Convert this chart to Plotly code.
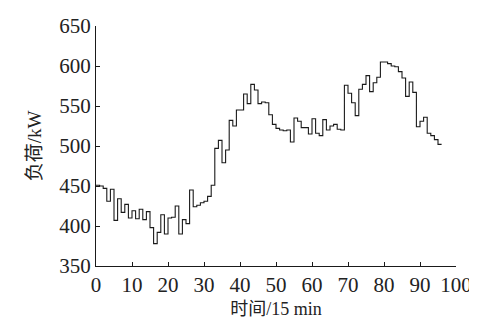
import plotly.graph_objects as go

# Load per 15-min interval (kW), interval index 0..95
load_kw = [
    451, 450, 447, 431, 446, 407, 434, 417, 427, 410,
    419, 409, 421, 408, 418, 398, 378, 392, 414, 390,
    410, 411, 425, 390, 408, 403, 445, 424, 426, 429,
    431, 437, 451, 497, 507, 479, 495, 532, 525, 545,
    545, 565, 553, 577, 570, 553, 555, 554, 539, 527,
    522, 520, 519, 520, 505, 535, 531, 523, 523, 515,
    534, 516, 513, 533, 520, 525, 527, 521, 520, 576,
    566, 554, 538, 571, 577, 588, 568, 579, 586, 605,
    605, 603, 600, 599, 593, 585, 562, 580, 567, 524,
    531, 536, 516, 513, 508, 502,
]
intervals = list(range(len(load_kw)))

x_ticks = [0, 10, 20, 30, 40, 50, 60, 70, 80, 90, 100]
y_ticks = [350, 400, 450, 500, 550, 600, 650]

# close the last step at the end of the final interval
xs = intervals + [intervals[-1] + 1]
ys = load_kw + [load_kw[-1]]

FONT = "Liberation Serif, Times New Roman, Noto Sans CJK SC, serif"

fig = go.Figure()
fig.add_trace(go.Scatter(
    x=xs, y=ys, mode="lines", line_shape="hv",
    line=dict(color="#1a1a1a", width=1.1),
    showlegend=False, hoverinfo="skip",
))

axis_common = dict(
    showgrid=False, zeroline=False, showline=True, automargin=False,
    linecolor="#1a1a1a", linewidth=1.2,
    ticks="inside", ticklen=4, tickwidth=1, tickcolor="#1a1a1a",
    tickfont=dict(family=FONT, size=21, color="#222"),
)

fig.update_layout(
    width=477, height=322,
    margin=dict(l=88, r=29, t=18, b=64),
    paper_bgcolor="white", plot_bgcolor="white",
    font=dict(family=FONT, color="#222"),
    xaxis=dict(
        range=[0, 100], tickvals=x_ticks, ticktext=[str(v) for v in x_ticks],
        title=dict(text="时间/15 min", font=dict(family=FONT, size=18), standoff=6),
        **axis_common,
    ),
    yaxis=dict(
        range=[350, 650], tickvals=y_ticks, ticktext=[str(v) for v in y_ticks],
        title=dict(text="负荷/kW", font=dict(family=FONT, size=19), standoff=12),
        **axis_common,
    ),
)

fig.write_html("out.html")
